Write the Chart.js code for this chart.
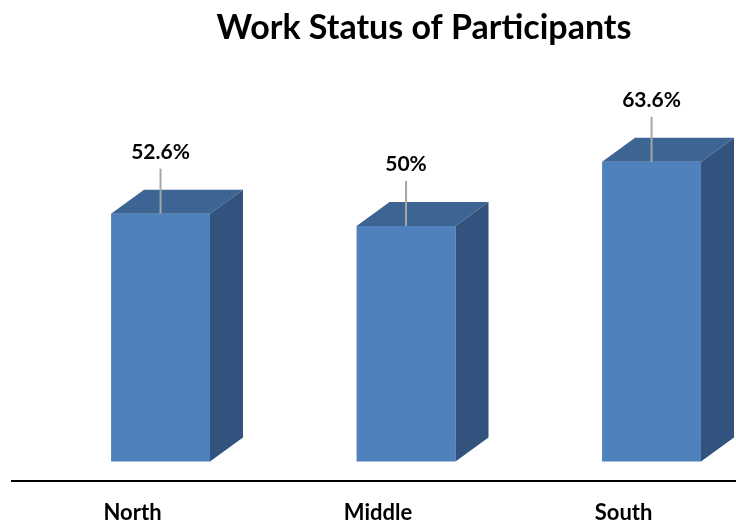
<!DOCTYPE html>
<html>
<head>
<meta charset="utf-8">
<title>Work Status of Participants</title>
<script src="https://cdn.jsdelivr.net/npm/chart.js"></script>
<style>
  html, body { margin: 0; padding: 0; background: #fff; }
  #wrap { width: 736px; height: 525px; }
</style>
</head>
<body>
<div id="wrap"><canvas id="myChart"></canvas></div>

<script>
    // chart data
    const regions = ['North', 'Middle', 'South'];
    const workPct = [52.6, 50, 63.6];
    const pctLabels = ['52.6%', '50%', '63.6%'];
    const chartTitle = 'Work Status of Participants';

    const FONT = 'Lato, "Open Sans", sans-serif';
    const DEPTH_X = 33, DEPTH_Y = 24;

    // draws the top + side faces, leader lines, value labels and the title
    const box3d = {
        id: 'box3d',
        afterDatasetsDraw(chart) {
            const ctx = chart.ctx;
            const meta = chart.getDatasetMeta(0);
            ctx.save();
            meta.data.forEach(function (bar, i) {
                const p = bar.getProps(['x', 'y', 'base', 'width'], true);
                const L = p.x - p.width / 2, R = p.x + p.width / 2;

                // top face
                ctx.fillStyle = '#3D6594';
                ctx.beginPath();
                ctx.moveTo(L, p.y);
                ctx.lineTo(R, p.y);
                ctx.lineTo(R + DEPTH_X, p.y - DEPTH_Y);
                ctx.lineTo(L + DEPTH_X, p.y - DEPTH_Y);
                ctx.closePath();
                ctx.fill();

                // side face
                ctx.fillStyle = '#33537F';
                ctx.beginPath();
                ctx.moveTo(R, p.y);
                ctx.lineTo(R + DEPTH_X, p.y - DEPTH_Y);
                ctx.lineTo(R + DEPTH_X, p.base - DEPTH_Y);
                ctx.lineTo(R, p.base);
                ctx.closePath();
                ctx.fill();

                // label + leader line
                const baseline = p.y - 55;
                ctx.strokeStyle = '#A6A6A6';
                ctx.lineWidth = 2;
                ctx.beginPath();
                ctx.moveTo(p.x, p.y);
                ctx.lineTo(p.x, baseline + 10);
                ctx.stroke();

                ctx.fillStyle = '#000';
                ctx.font = 'bold 21px ' + FONT;
                ctx.textAlign = 'center';
                ctx.textBaseline = 'alphabetic';
                ctx.fillText(pctLabels[i], p.x, baseline);
            });

            // title (sits right of centre in the original)
            ctx.fillStyle = '#000';
            ctx.font = 'bold 34px ' + FONT;
            ctx.textAlign = 'center';
            ctx.textBaseline = 'middle';
            ctx.fillText(chartTitle, 424, 28);
            ctx.restore();
        }
    };

    const ctx = document.getElementById('myChart').getContext('2d');
    new Chart(ctx, {
        type: 'bar',
        data: {
            datasets: [{
                label: 'Work status',
                data: workPct.map((v, i) => ({ x: i, y: v })),
                backgroundColor: '#4F81BD',
                borderWidth: 0,
                barPercentage: 0.403,
                categoryPercentage: 1
            }]
        },
        options: {
            responsive: true,
            maintainAspectRatio: false,
            animation: false,
            layout: {
                padding: { left: 12, right: 0, top: 60, bottom: -20 }
            },
            plugins: {
                legend: { display: false },
                tooltip: { enabled: false },
                title: { display: false }
            },
            scales: {
                x: {
                    type: 'linear',
                    offset: false,
                    min: -0.605,
                    max: 2.344,
                    afterBuildTicks: (scale) => {
                        scale.ticks = regions.map((r, i) => ({ value: i }));
                    },
                    grid: { display: true, offset: false, drawOnChartArea: false, drawTicks: false },
                    border: { display: true, color: '#000', width: 2 },
                    ticks: {
                        callback: (v) => regions[v],
                        labelOffset: -28,
                        padding: 19,
                        color: '#000',
                        maxRotation: 0,
                        font: { family: FONT, size: 22, weight: 'bold' }
                    }
                },
                y: {
                    display: false,
                    min: -4.03,
                    max: 85.2
                }
            }
        },
        plugins: [box3d]
    });
</script>
</body>
</html>
